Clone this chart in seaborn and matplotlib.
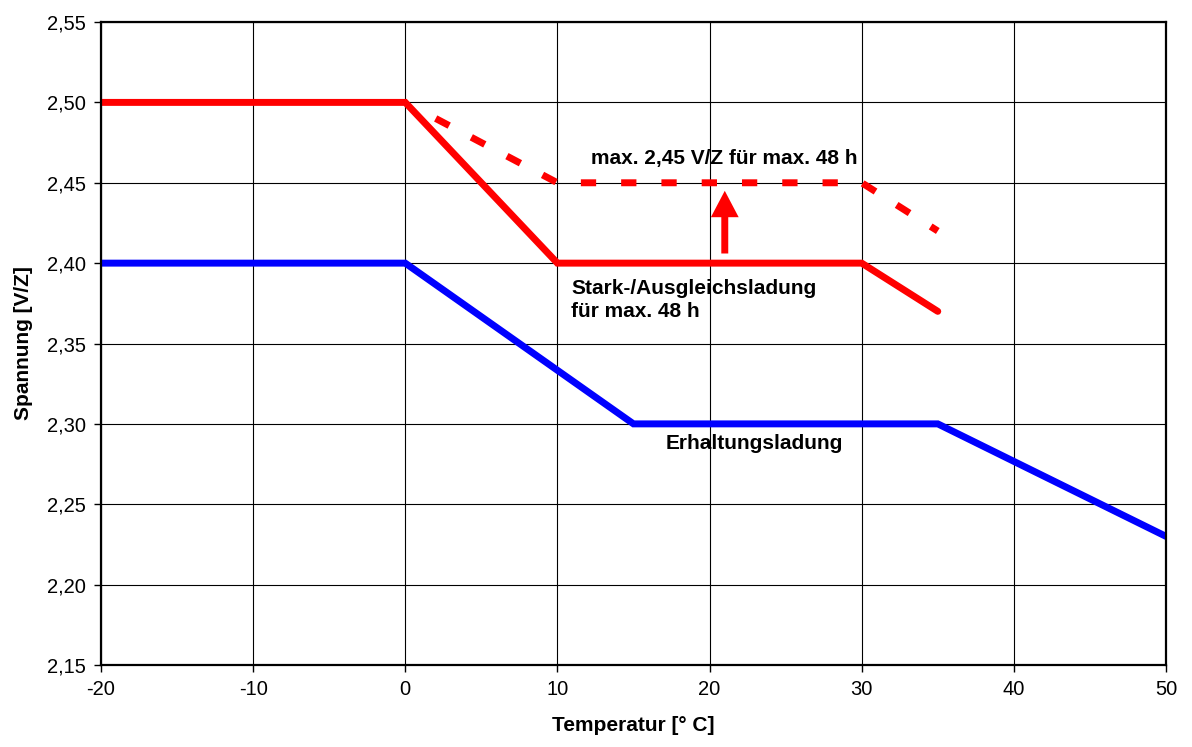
import matplotlib
matplotlib.use("Agg")
import matplotlib.pyplot as plt
from matplotlib.ticker import FuncFormatter, MultipleLocator
import pandas as pd
import seaborn as sns

# values
temp_erhaltung = [-20, 0, 15, 35, 50]
u_erhaltung = [2.40, 2.40, 2.30, 2.30, 2.23]

temp_stark = [-20, 0, 10, 30, 35]
u_stark = [2.50, 2.50, 2.40, 2.40, 2.37]

temp_max = [2, 10, 30, 35]
u_max = [2.49, 2.45, 2.45, 2.42]

x_ticks = [-20, -10, 0, 10, 20, 30, 40, 50]

sns.set_style("white")
plt.rcParams["font.family"] = ["Liberation Sans", "DejaVu Sans"]
plt.rcParams["axes.unicode_minus"] = False
plt.rcParams["text.color"] = "black"
plt.rcParams["axes.labelcolor"] = "black"
plt.rcParams["xtick.color"] = "black"
plt.rcParams["ytick.color"] = "black"

df_erh = pd.DataFrame({"temp": temp_erhaltung, "u": u_erhaltung})
df_stark = pd.DataFrame({"temp": temp_stark, "u": u_stark})
df_max = pd.DataFrame({"temp": temp_max, "u": u_max})

fig = plt.figure(figsize=(11.92, 7.47), dpi=100)
ax = fig.add_axes([0.0847, 0.1098, 0.8935, 0.8607])

sns.lineplot(data=df_erh, x="temp", y="u", ax=ax, color="#0000ff", lw=5,
             sort=False, solid_joinstyle="miter")
sns.lineplot(data=df_stark, x="temp", y="u", ax=ax, color="#ff0000", lw=5,
             sort=False, solid_joinstyle="miter")
sns.lineplot(data=df_max, x="temp", y="u", ax=ax, color="#ff0000", lw=5,
             sort=False, dashes=False)
ax.lines[-1].set_dashes((2.2, 3.6))
ax.lines[-1].set_dash_capstyle("butt")

# arrow from normal to max charge level
ax.annotate("", xy=(21, 2.445), xytext=(21, 2.406),
            arrowprops=dict(arrowstyle="simple,head_length=0.95,head_width=1.0,tail_width=0.25",
                            mutation_scale=20, color="#ff0000", lw=0,
                            shrinkA=0, shrinkB=0))

ax.text(12.2, 2.465, "max. 2,45 V/Z für max. 48 h", fontsize=15,
        fontweight="bold", ha="left", va="center")
ax.text(10.9, 2.377, "Stark-/Ausgleichsladung\nfür max. 48 h", fontsize=15,
        fontweight="bold", ha="left", va="center", linespacing=1.25)
ax.text(17.1, 2.2875, "Erhaltungsladung", fontsize=15,
        fontweight="bold", ha="left", va="center")

ax.set_xlim(-20, 50)
ax.set_ylim(2.15, 2.55)
ax.set_xticks(x_ticks)
ax.yaxis.set_major_locator(MultipleLocator(0.05))
ax.yaxis.set_major_formatter(FuncFormatter(lambda v, p: f"{v:.2f}".replace(".", ",")))

ax.grid(True, color="black", lw=0.8)
ax.set_axisbelow(True)
for s in ax.spines.values():
    s.set_color("black")
    s.set_linewidth(1.6)

ax.tick_params(axis="both", direction="out", length=5, width=1, color="black",
               labelsize=14.5, left=True, bottom=True, pad=6)

ax.set_xlabel("Temperatur [° C]", fontsize=15, fontweight="bold", labelpad=12)
ax.set_ylabel("Spannung [V/Z]", fontsize=15, fontweight="bold", labelpad=10)

fig.savefig("out.png", dpi=100)
